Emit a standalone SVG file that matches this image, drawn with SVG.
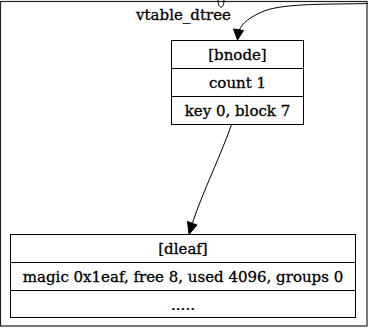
<svg xmlns="http://www.w3.org/2000/svg" width="372" height="330" viewBox="0 0 372 330">
<style>
text{font-family:"DejaVu Serif","Liberation Serif",serif;font-size:15px;text-anchor:middle;fill:#000;stroke:#000;stroke-width:0.3}
.box{fill:#fff;stroke:#000;stroke-width:1}
.ln{stroke:#000;stroke-width:1}
.edge{fill:none;stroke:#000;stroke-width:1}
</style>
<rect width="372" height="330" fill="#fff"/>
<g id="cluster_vtable_dtree">
<rect x="0.5" y="1.5" width="366.5" height="324.5" fill="none" stroke="#222" stroke-width="1.2"/>
<text x="183.5" y="20">vtable_dtree</text>
</g>
<g id="bnode">
<rect class="box" x="171.5" y="40.5" width="132" height="84"/>
<line class="ln" x1="171.5" y1="68.5" x2="303.5" y2="68.5"/>
<line class="ln" x1="171.5" y1="96.5" x2="303.5" y2="96.5"/>
<text x="237.5" y="59.5">[bnode]</text>
<text x="237.5" y="87.5">count 1</text>
<text x="237.5" y="115.5">key 0, block 7</text>
</g>
<g id="dleaf">
<rect class="box" x="10.5" y="234.5" width="345" height="83"/>
<line class="ln" x1="10.5" y1="262.5" x2="355.5" y2="262.5"/>
<line class="ln" x1="10.5" y1="290.5" x2="355.5" y2="290.5"/>
<text x="183" y="253.5">[dleaf]</text>
<text x="183" y="281.5">magic 0x1eaf, free 8, used 4096, groups 0</text>
<text x="183" y="309.5">.....</text>
</g>
<g id="connectors">
<path class="edge" d="M218,0 C218,9.5 224,9.5 224,0"/>
<path class="edge" d="M368,3.5 C330,4.5 285,3 264,11 C250,17 242,23 239.5,30"/>
<polygon points="233.5,29 243.5,30.5 237.5,40" fill="#000" stroke="#000"/>
<path class="edge" d="M231.5,124.5 C223,150 201,196 192.5,223"/>
<polygon points="187.5,221.5 197,225 189,234.5" fill="#000" stroke="#000"/>
</g>
</svg>
